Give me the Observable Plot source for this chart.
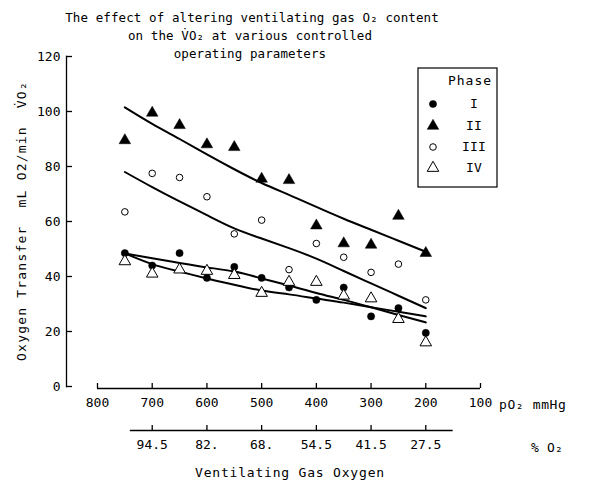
<!DOCTYPE html>
<html>
<head>
<meta charset="utf-8">
<script src="https://cdn.jsdelivr.net/npm/d3@7"></script>
<script src="https://cdn.jsdelivr.net/npm/@observablehq/plot@0.6"></script>
<style>
  html, body { margin: 0; padding: 0; background: #fff; }
  #chart { width: 589px; height: 486px; }
</style>
</head>
<body>
<div id="chart"></div>
<script>
// ---- data ----
const pO2 = [750, 700, 650, 600, 550, 500, 450, 400, 350, 300, 250, 200];
const phaseI   = [48.5, 44, 48.5, 39.5, 43.5, 39.5, 36, 31.5, 36, 25.5, 28.5, 19.5];
const phaseII  = [89.5, 99.5, 95, 88, 87, 75.5, 75, 58.5, 52, 51.5, 62, 48.5];
const phaseIII = [63.5, 77.5, 76, 69, 55.5, 60.5, 42.5, 52, 47, 41.5, 44.5, 31.5];
const phaseIV  = [45.5, 41, 42.5, 42, 40.5, 34, 38, 38, 33, 32, 24.5, 16];

// fitted curves
const fitI   = [48.4, 46.6, 44.9, 43.3, 41.8, 39.3, 36.7, 34, 31.5, 28.8, 26, 23.3];
const fitII  = [101.5, 95.5, 90, 84.4, 79, 74, 69.7, 65.3, 61, 57, 53, 49];
const fitIII = [78, 72.5, 67.3, 62.3, 57.5, 53.8, 50.3, 46.5, 42, 37.5, 33, 28.5];
const fitIV  = [48.4, 44.5, 41.8, 39.3, 37, 34.9, 33.5, 32, 30.5, 28.8, 27.2, 25.5];

const yTicks = [0, 20, 40, 60, 80, 100, 120];
const pO2Ticks = [800, 700, 600, 500, 400, 300, 200, 100];
const pctTickPos = [700, 600, 500, 400, 300, 200];
const pctLabels = ["94.5", "82.", "68.", "54.5", "41.5", "27.5"];
const pctAxisExtent = [740, 150];

const phases = ["I", "II", "III", "IV"];
const series = [phaseI, phaseII, phaseIII, phaseIV];
const fits = [fitI, fitII, fitIII, fitIV];

const points = series.flatMap((vals, k) => vals.map((v, i) => ({x: pO2[i], y: v, phase: phases[k]})));
const curves = fits.flatMap((vals, k) => vals.map((v, i) => ({x: pO2[i], y: v, phase: phases[k]})));

const FONT = "DejaVu Sans Mono";
const W = 589, H = 486;

const sym = {I: "circle", II: "triangle", III: "circle", IV: "triangle"};
const filled = {I: true, II: true, III: false, IV: false};
const rad = {I: 3.6, II: 4.3, III: 3.3, IV: 4.3};

const dotMarks = phases.map(p => Plot.dot(points.filter(d => d.phase === p), {
  x: "x", y: "y", symbol: () => sym[p], r: rad[p],
  fill: filled[p] ? "black" : "white",
  stroke: "black", strokeWidth: filled[p] ? 0.5 : 1
}));

const chart = Plot.plot({
  width: W, height: H,
  marginLeft: 66, marginTop: 56, marginBottom: 100, marginRight: 92,
  style: {fontFamily: FONT, fontSize: "13px", background: "white", color: "black"},
  x: {domain: [800, 100], range: [97, 480]},
  y: {domain: [0, 120], range: [386, 56]},
  symbol: {type: "identity"},
  marks: [
    Plot.frame({anchor: "left", stroke: "black", strokeWidth: 1.3}),
    Plot.axisY({ticks: yTicks, tickSize: 6, dx: 6, tickFormat: () => "", label: null, strokeWidth: 1.3}),
    Plot.axisY({ticks: yTicks, tickSize: 0, tickPadding: 6, label: null, fontSize: 13}),
    Plot.ruleY([0], {x1: d3.max(pO2Ticks), x2: d3.min(pO2Ticks), dy: 2, strokeWidth: 1.3}),
    Plot.axisX({ticks: pO2Ticks, tickSize: 5, dy: -3, tickFormat: () => "", label: null, strokeWidth: 1.3}),
    Plot.axisX({ticks: pO2Ticks, tickSize: 0, tickPadding: 11, label: null, fontSize: 13}),
    Plot.ruleY([0], {x1: pctAxisExtent[0], x2: pctAxisExtent[1], dy: 44, strokeWidth: 1.3}),
    Plot.axisX({ticks: pctTickPos, tickSize: 5, dy: 39, tickFormat: () => "", label: null, strokeWidth: 1.3}),
    Plot.axisX({ticks: pctTickPos, tickSize: 0, tickPadding: 9, dy: 44,
      tickFormat: d => pctLabels[pctTickPos.indexOf(d)], label: null, fontSize: 13}),
    ...phases.map(p => Plot.line(curves.filter(d => d.phase === p), {x: "x", y: "y", curve: "natural", stroke: "black", strokeWidth: 2})),
    ...dotMarks
  ]
});

const svg = d3.select(chart);
function txt(x, y, s, opts = {}) {
  return svg.append("text")
    .attr("x", x).attr("y", y)
    .attr("text-anchor", opts.anchor || "middle")
    .attr("dominant-baseline", "middle")
    .attr("font-family", FONT)
    .attr("font-size", opts.size || 13)
    .attr("letter-spacing", opts.ls != null ? opts.ls : 0.2)
    .attr("transform", opts.transform || null)
    .attr("fill", "black")
    .text(s);
}

// title
txt(252, 18, "The effect of altering ventilating gas O₂ content", {size: 12.5, ls: 0.1});
txt(250, 36, "on the V̇O₂ at various controlled", {size: 12.5, ls: 0.1});
txt(250, 54, "operating parameters", {size: 12.5, ls: 0.1});

// y label
txt(0, 0, "Oxygen Transfer  mL O2/min  V̇O₂", {transform: `translate(22,${(386 + 56) / 2}) rotate(-90)`, ls: 1.2});

// axis unit labels
txt(499, 405, "pO₂ mmHg", {anchor: "start", ls: 0.6});
txt(531, 448, "% O₂", {anchor: "start"});
txt(290, 473, "Ventilating Gas Oxygen", {ls: 0.8});

// legend
const lg = svg.append("g");
lg.append("rect").attr("x", 418).attr("y", 68).attr("width", 79).attr("height", 119)
  .attr("fill", "white").attr("stroke", "black").attr("stroke-width", 1.2);
txt(470, 81, "Phase", {ls: 1});
const rowY = [104, 126, 147, 168];
phases.forEach((p, i) => {
  const area = Math.PI * rad[p] * rad[p];
  lg.append("path")
    .attr("d", d3.symbol(p === "I" || p === "III" ? d3.symbolCircle : d3.symbolTriangle, area)())
    .attr("transform", `translate(433,${rowY[i]})`)
    .attr("fill", filled[p] ? "black" : "white")
    .attr("stroke", "black").attr("stroke-width", filled[p] ? 0.5 : 1);
  txt(474, rowY[i], p, {size: 13});
});

document.getElementById("chart").appendChild(chart);
</script>
</body>
</html>
